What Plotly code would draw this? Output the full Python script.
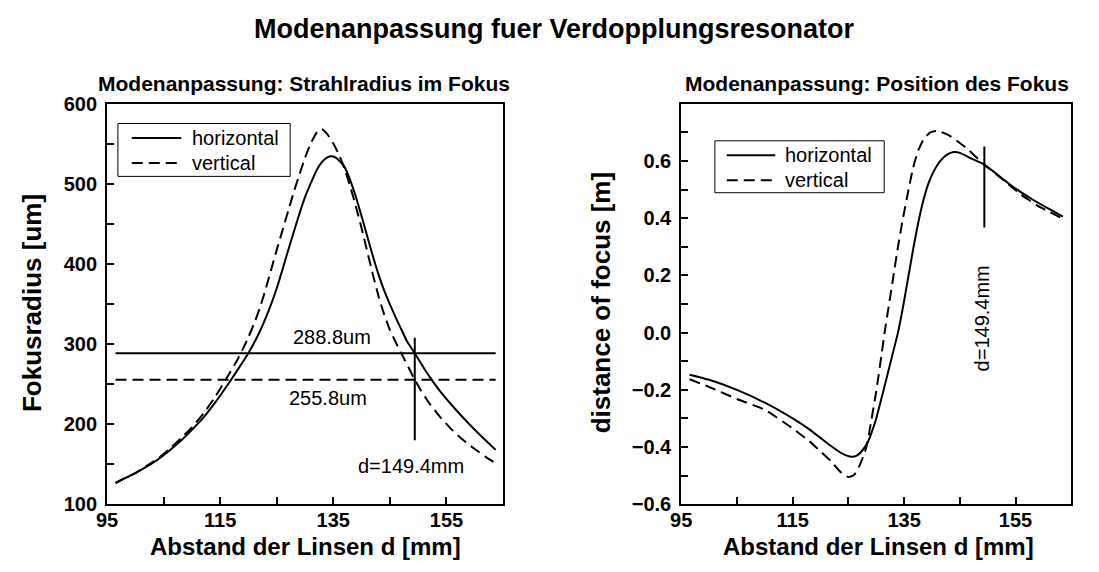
import plotly.graph_objects as go

# ---------------- data ----------------
# Left panel: beam radius in focus [um] vs lens distance d [mm]
d_rad_h = [96.5, 98, 100, 102, 104, 106, 108, 110, 112, 114, 116, 118, 120, 122, 124, 125,
           126, 127, 128, 129, 130, 131, 132, 133, 134, 134.8, 135.5, 136.8, 138, 139, 140, 141,
           142, 143, 144, 145, 146, 147, 148, 149.4, 151, 152, 153, 154, 156, 158, 160, 162, 163.7]
rad_h = [127, 132, 139, 147, 156, 167, 179, 193, 208, 226, 246, 267, 289, 316, 350, 370,
         393, 417, 440, 463, 484, 501, 517, 528, 534, 535, 533, 524, 505, 484, 460, 435,
         410, 387, 367, 350, 334, 319, 304, 288.8, 270.3, 259.6, 249.6, 240.3, 223.5, 207.9,
         193.2, 179.4, 168]

d_rad_v = [96.5, 98, 100, 102, 104, 106, 108, 110, 112, 114, 116, 118, 119, 120, 121, 122, 123,
           124, 125, 126, 127, 128, 129, 130, 131, 132, 132.6, 133, 134, 135, 136, 137, 138, 139,
           140, 141, 142, 143, 144, 145, 146, 147, 149.4, 150.5, 152, 154, 156, 158, 160, 162, 163.7]
rad_v = [126, 132, 139, 148, 157, 169, 182, 196, 213, 233, 256, 280, 294, 309, 326, 345, 368,
         393, 418, 442, 466, 490, 512, 533, 551, 564, 569, 569, 562, 551, 537, 519, 497, 472,
         445, 416, 387, 360, 337, 318, 303, 289, 255.8, 242, 226, 208, 193, 180, 169, 159, 151]

# reference levels (left panel)
ref_d = [96.5, 163.7]
ref_h = [288.8, 288.8]
ref_v = [255.8, 255.8]
mark_d = [149.4, 149.4]
mark_rad = [308, 180]

# Right panel: distance of focus [m] vs lens distance d [mm]
d_pos_h = [96.5, 100, 105, 110, 115, 118, 120, 122, 124, 125.5, 126.5, 127.5, 128.4, 129, 130,
           131, 132, 133, 133.9, 134.9, 135.8, 136.7, 137.6, 138.5, 139.4, 140.4, 141.5, 142.7,
           143.9, 145, 147, 149.4, 152, 155, 158, 161, 163.5]
pos_h = [-0.147, -0.165, -0.200, -0.245, -0.300, -0.338, -0.368, -0.398, -0.424, -0.434, -0.430,
         -0.412, -0.386, -0.358, -0.300, -0.225, -0.148, -0.070, 0.000, 0.100, 0.200, 0.300,
         0.390, 0.465, 0.523, 0.567, 0.600, 0.622, 0.631, 0.628, 0.609, 0.587, 0.548, 0.503,
         0.466, 0.432, 0.405]

d_pos_v = [96.5, 100, 105, 110, 115, 118, 120, 122, 123, 124, 125, 126, 127, 128, 128.4, 129,
           130, 131, 131.5, 132.3, 133.1, 133.9, 134.8, 135.7, 136.6, 137.5, 138.5, 139.7, 141.0,
           143, 146, 149.4, 153, 156, 159, 163.5]
pos_v = [-0.163, -0.190, -0.232, -0.270, -0.335, -0.380, -0.415, -0.452, -0.475, -0.495, -0.505,
         -0.498, -0.465, -0.415, -0.386, -0.320, -0.205, -0.070, 0.000, 0.100, 0.200, 0.300,
         0.400, 0.490, 0.575, 0.635, 0.675, 0.700, 0.705, 0.690, 0.648, 0.587, 0.530, 0.482,
         0.443, 0.398]

mark_pos = [0.65, 0.367]

series_names = ["horizontal", "vertical"]
labels_left = ["288.8um", "255.8um", "d=149.4mm"]
label_left_d = [134.7, 134.0, 148.7]
label_left_y = [309, 233, 148]
label_right = "d=149.4mm"
label_right_d = 149.0
label_right_y = 0.05

FONT = "Liberation Sans"
DASH = "11px,6px"
SPL = dict(shape="spline", smoothing=0.5)
black = "black"

fig = go.Figure()


def line_trace(x, y, xa, ya, dash=None, spline=True):
    ln = dict(color=black, width=2)
    if dash:
        ln["dash"] = dash
    if spline:
        ln.update(SPL)
    return go.Scatter(x=x, y=y, mode="lines", showlegend=False, line=ln,
                      xaxis=xa, yaxis=ya, hoverinfo="x+y")


fig.add_trace(line_trace(d_rad_h, rad_h, "x", "y"))
fig.add_trace(line_trace(d_rad_v, rad_v, "x", "y", dash=DASH))
fig.add_trace(line_trace(ref_d, ref_h, "x", "y", spline=False))
fig.add_trace(line_trace(ref_d, ref_v, "x", "y", dash=DASH, spline=False))
fig.add_trace(line_trace(mark_d, mark_rad, "x", "y", spline=False))
fig.add_trace(line_trace(d_pos_h, pos_h, "x2", "y2"))
fig.add_trace(line_trace(d_pos_v, pos_v, "x2", "y2", dash=DASH))
fig.add_trace(line_trace(mark_d, mark_pos, "x2", "y2", spline=False))

W, H = 1099, 572
ytop, ybot = 97, 513
yd = [1 - ybot / H, 1 - ytop / H]

tickfont = dict(family=FONT, size=20, color=black, weight="bold")
common = dict(showline=True, linecolor=black, linewidth=2, mirror=True, ticks="inside",
              ticklen=7, tickwidth=2, tickcolor=black, showgrid=False, zeroline=False,
              tickfont=tickfont)
minor = dict(ticks="inside", ticklen=7, tickwidth=2, tickcolor=black, showgrid=False)

fig.update_layout(
    width=W, height=H, margin=dict(l=0, r=0, t=0, b=0),
    paper_bgcolor="white", plot_bgcolor="white",
    font=dict(family=FONT, color=black), showlegend=False,
    xaxis=dict(domain=[97 / W, 497 / W], range=[95, 165], tick0=95, dtick=20,
               ticklabelstandoff=-3,
               minor=dict(dtick=10, tick0=95, **minor), anchor="y", **common),
    yaxis=dict(domain=yd, range=[100, 600], tick0=100, dtick=100, ticklabelstandoff=4,
               minor=dict(dtick=50, tick0=100, **minor), anchor="x", **common),
    xaxis2=dict(domain=[677 / W, 1071 / W], range=[95, 165], tick0=95, dtick=20,
                ticklabelstandoff=-3,
                minor=dict(dtick=10, tick0=95, **minor), anchor="y2", **common),
    yaxis2=dict(domain=yd, range=[-0.6, 0.798], tick0=-0.6, dtick=0.2, tickformat=".1f",
                ticklabelstandoff=4,
                minor=dict(dtick=0.1, tick0=-0.6, **minor), anchor="x2", **common),
)

ann = []
shapes = []


def pann(text, x, y, size, angle=0, weight="bold", xanchor="center"):
    return dict(text=text, x=x / W, y=1 - y / H, xref="paper", yref="paper",
                xanchor=xanchor, yanchor="middle", textangle=angle, showarrow=False,
                font=dict(family=FONT, size=size, color=black, weight=weight))


ann.append(pann("Modenanpassung fuer Verdopplungsresonator", 549, 19, 27))
ann.append(pann("Modenanpassung: Strahlradius im Fokus", 296, 75, 21))
ann.append(pann("Modenanpassung: Position des Fokus", 875, 75, 21))
ann.append(pann("Abstand der Linsen d [mm]", 297, 557, 24))
ann.append(pann("Abstand der Linsen d [mm]", 876, 557, 24))
ann.append(pann("Fokusradius [um]", 22, 304, 26, -90))
ann.append(pann("distance of focus [m]", 596, 304, 26, -90))

for t, xx, yy in zip(labels_left, label_left_d, label_left_y):
    ann.append(dict(text=t, x=xx, y=yy, xref="x", yref="y", showarrow=False,
                    xanchor="center", yanchor="middle",
                    font=dict(family=FONT, size=20, color=black)))
ann.append(dict(text=label_right, x=label_right_d, y=label_right_y, xref="x2", yref="y2",
                textangle=-90, showarrow=False, xanchor="center", yanchor="middle",
                font=dict(family=FONT, size=20, color=black)))

# legend boxes (drawn as layout shapes + text)
legends = [
    dict(box=(108, 117, 282, 172), x0=122, x1=172, tx=181, rows=(132, 158)),
    dict(box=(711, 135, 882, 189), x0=723, x1=772, tx=780, rows=(150, 176)),
]
for lg in legends:
    bx0, by0, bx1, by1 = lg["box"]
    shapes.append(dict(type="rect", xref="paper", yref="paper",
                       x0=bx0 / W, x1=bx1 / W, y0=1 - by1 / H, y1=1 - by0 / H,
                       line=dict(color=black, width=1), fillcolor="white", layer="above"))
    for name, ry, dash in zip(series_names, lg["rows"], ["solid", DASH]):
        shapes.append(dict(type="line", xref="paper", yref="paper",
                           x0=lg["x0"] / W, x1=lg["x1"] / W, y0=1 - ry / H, y1=1 - ry / H,
                           line=dict(color=black, width=2, dash=dash), layer="above"))
        ann.append(pann(name, lg["tx"], ry, 20, weight="normal", xanchor="left"))

fig.update_layout(annotations=ann, shapes=shapes)

fig.write_html("out.html")
